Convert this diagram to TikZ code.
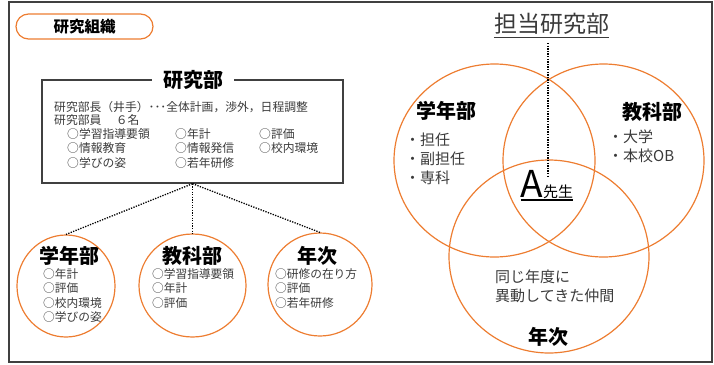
\documentclass[tikz,border=0pt]{standalone}
\usepackage{fontspec}
\setmainfont{Noto Sans CJK JP}
\usetikzlibrary{shapes.geometric}
\definecolor{orng}{HTML}{ED7D31}
\definecolor{dgray}{HTML}{404040}
\definecolor{tgray}{HTML}{3A3A3A}
\newcommand{\fs}[1]{\fontsize{#1}{#1}\selectfont}
\begin{document}
\begin{tikzpicture}[x=1pt,y=-1pt,
  frame/.style={draw=dgray,line width=1.4pt},
  ocirc/.style={ellipse,draw=orng,line width=1.2pt,inner sep=0pt},
  dotline/.style={line width=1.3pt,dash pattern=on 1.3pt off 1.3pt},
  body/.style={anchor=west,inner sep=0pt,text=tgray,font=\fs{11.8}},
  item/.style={anchor=west,inner sep=0pt,text=tgray,font=\fs{11.7}},
  vitem/.style={anchor=west,inner sep=0pt,text=tgray,font=\fs{15}},
  head/.style={inner sep=0pt,font=\fs{20}\bfseries}]
\useasboundingbox (0,0) rectangle (714,364);
\draw[frame] (9,2) rectangle (712,362);
% title pill
\node[draw=orng,line width=1.2pt,rounded corners=12.5pt,minimum width=137pt,minimum height=25pt,font=\fs{15.5}\bfseries] (pill) at (84.5,26.5) {研究組織};
% research box
\node[frame,minimum width=301pt,minimum height=103pt] (rb) at (192.5,131.5) {};
\node[fill=white,inner xsep=11pt,inner ysep=0pt,font=\fs{20}\bfseries] (rbt) at (193,80) {研究部};
\node[body] (l1) at (54,107) {研究部長（井手）･･･全体計画，渉外，日程調整};
\node[body] (l2) at (54,120) {研究部員　 ６名};
\node[body] (a1) at (67,134) {○学習指導要領};
\node[body] (a2) at (175,134) {○年計};
\node[body] (a3) at (259,134) {○評価};
\node[body] (b1) at (67,148) {○情報教育};
\node[body] (b2) at (175,148) {○情報発信};
\node[body] (b3) at (259,148) {○校内環境};
\node[body] (c1t) at (67,163) {○学びの姿};
\node[body] (c2t) at (175,163) {○若年研修};
% small circles
\node[ocirc,minimum width=98pt,minimum height=102pt] (s1) at (66,286) {};
\node[ocirc,minimum width=107pt,minimum height=103pt] (s2) at (192.5,285.5) {};
\node[ocirc,minimum width=104pt,minimum height=103pt] (s3) at (320,284.5) {};
\draw[dotline] (rb.south) -- (s1.north);
\draw[dotline] (rb.south) -- (s2.north);
\draw[dotline] (rb.south) -- (s3.north);
\node[head] (h1) at (69.5,256) {学年部};
\node[item] at (43,274) {○年計};
\node[item] at (43,288) {○評価};
\node[item] at (43,303) {○校内環境};
\node[item] at (43,317) {○学びの姿};
\node[head] (h2) at (192,256) {教科部};
\node[item] at (152,274) {○学習指導要領};
\node[item] at (152,288) {○年計};
\node[item] at (152,303) {○評価};
\node[head] (h3) at (317.5,256) {年次};
\node[item] at (275,274) {○研修の在り方};
\node[item] at (275,288) {○評価};
\node[item] at (275,303) {○若年研修};
% Venn diagram
\node[anchor=base,inner sep=0pt,text=tgray,font=\fs{23}] (tt) at (551.5,32.5) {担当研究部};
\draw[tgray,line width=1pt] ([yshift=-4.5pt]tt.base west) -- ([yshift=-4.5pt]tt.base east);
\node[ocirc,minimum width=201pt,minimum height=193pt] (v1) at (494.5,160.5) {};
\node[ocirc,minimum width=201pt,minimum height=193pt] (v2) at (603.5,160.5) {};
\node[ocirc,minimum width=200pt,minimum height=193pt] (v3) at (549,256.5) {};
\coordinate (dtop) at (548,43);
\coordinate (dbot) at (548,176);
\draw[dotline] (dtop) -- (dbot);
\node[head] at (446,111) {学年部};
\node[vitem] at (405,140) {・担任};
\node[vitem] at (405,158.5) {・副担任};
\node[vitem] at (405,178) {・専科};
\node[head] at (652,112) {教科部};
\node[vitem] at (608,137) {・大学};
\node[vitem] at (608,156) {・本校OB};
\node[anchor=base west,inner sep=0pt] (ta) at (520.5,197) {\fs{37}A\fs{15}先生};
\draw[line width=1.2pt] ([yshift=-3pt]ta.base west) -- ([yshift=-3pt]ta.base east);
\node[vitem] at (495,277) {同じ年度に};
\node[vitem] at (495,296) {異動してきた仲間};
\node[head] at (548.5,337) {年次};
\end{tikzpicture}
\end{document}
